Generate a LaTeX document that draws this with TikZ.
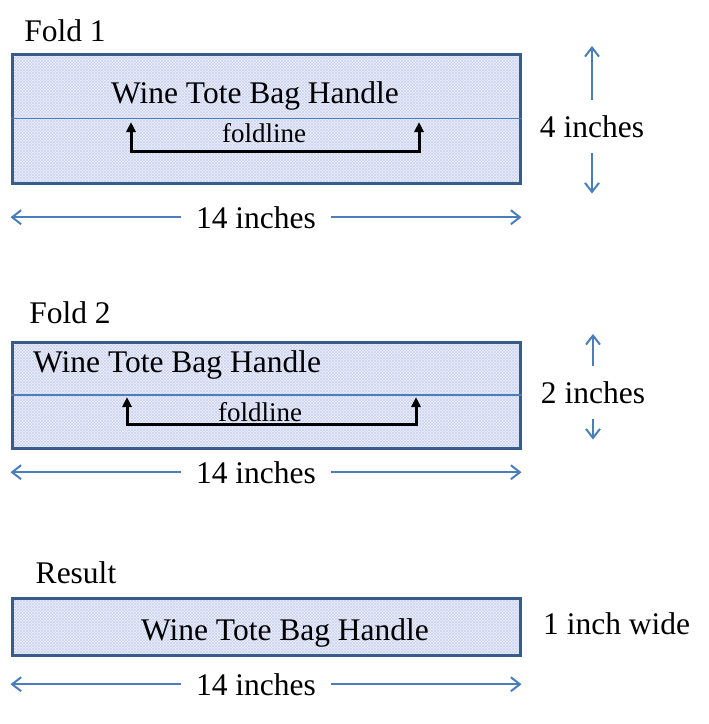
\documentclass[tikz,border=0pt]{standalone}
\usepackage{fontspec}
\setmainfont{Liberation Serif}
\usetikzlibrary{arrows.meta, patterns}
\definecolor{edgeblue}{RGB}{56,93,138}
\definecolor{lineblue}{RGB}{74,126,187}
\definecolor{bagfill}{RGB}{238,241,250}
\definecolor{hatch}{RGB}{205,212,242}
\tikzstyle{strip} = [rectangle, minimum width=508pt, draw=edgeblue, line width=3pt,
    preaction={fill=bagfill}, preaction={pattern=north east lines, pattern color=hatch},
    pattern=north west lines, pattern color=hatch]
\tikzstyle{caption} = [font=\fontsize{31.5}{36}\selectfont, anchor=base, inner sep=0pt]
\tikzstyle{small} = [font=\fontsize{27}{30}\selectfont, anchor=base, inner sep=0pt]
\tikzstyle{dim} = [font=\fontsize{31.5}{36}\selectfont, anchor=base, inner xsep=15pt, inner ysep=15pt]
\tikzstyle{dimarrow} = [draw=lineblue, line width=2pt, -{Straight Barb[length=9pt,width=14pt]}]
\tikzstyle{foldarrow} = [line width=3pt, {Triangle[length=10pt,width=9pt]}-{Triangle[length=10pt,width=9pt]}]
\tikzstyle{foldline} = [draw=lineblue, line width=1.5pt]

\begin{document}
\begin{tikzpicture}[x=1pt, y=-1pt]
        \useasboundingbox (0,0) rectangle (709,724);

        % Fold 1
        \node (head1) [caption] at (65,41) {Fold 1};
        \node (box1) [strip, minimum height=129pt] at (266,118.5) {};
        \draw [foldline] (box1.west) -- (box1.east);
        \node (title1) [caption] at (255,103) {Wine Tote Bag Handle};
        \node (fl1) [small] at (264,142) {foldline};
        \coordinate (tipL1) at (131,122);
        \coordinate (tipR1) at (419,122);
        \draw [foldarrow] (tipL1) -- ++(0,29) -| (tipR1);
        \node (h1) [dim] at (592,137) {4 inches};
        \draw [dimarrow] (h1.north) -- ++(0,-54);
        \draw [dimarrow] (h1.south) -- ++(0,41);
        \node (w1) [dim] at (256,228) {14 inches};
        \draw [dimarrow] (w1.west) -- (w1.west -| box1.west);
        \draw [dimarrow] (w1.east) -- (w1.east -| box1.east);

        % Fold 2
        \node (head2) [caption] at (70,323) {Fold 2};
        \node (box2) [strip, minimum height=106pt] at (266,395) {};
        \draw [foldline] (box2.west) -- (box2.east);
        \node (title2) [caption, anchor=base west] at (33,372) {Wine Tote Bag Handle};
        \node (fl2) [small] at (260,421) {foldline};
        \coordinate (tipL2) at (127,397);
        \coordinate (tipR2) at (416,397);
        \draw [foldarrow] (tipL2) -- ++(0,27) -| (tipR2);
        \node (h2) [dim] at (593,403) {2 inches};
        \draw [dimarrow] (h2.north) -- ++(0,-32);
        \draw [dimarrow] (h2.south) -- ++(0,21);
        \node (w2) [dim] at (256,483) {14 inches};
        \draw [dimarrow] (w2.west) -- (w2.west -| box2.west);
        \draw [dimarrow] (w2.east) -- (w2.east -| box2.east);

        % Result
        \node (head3) [caption] at (76,583) {Result};
        \node (box3) [strip, minimum height=57pt] at (266,626.5) {};
        \node (title3) [caption] at (285,640) {Wine Tote Bag Handle};
        \node (wide) [caption, anchor=base west] at (543,634) {1 inch wide};
        \node (w3) [dim] at (256,695) {14 inches};
        \draw [dimarrow] (w3.west) -- (w3.west -| box3.west);
        \draw [dimarrow] (w3.east) -- (w3.east -| box3.east);
    \end{tikzpicture}
\end{document}
